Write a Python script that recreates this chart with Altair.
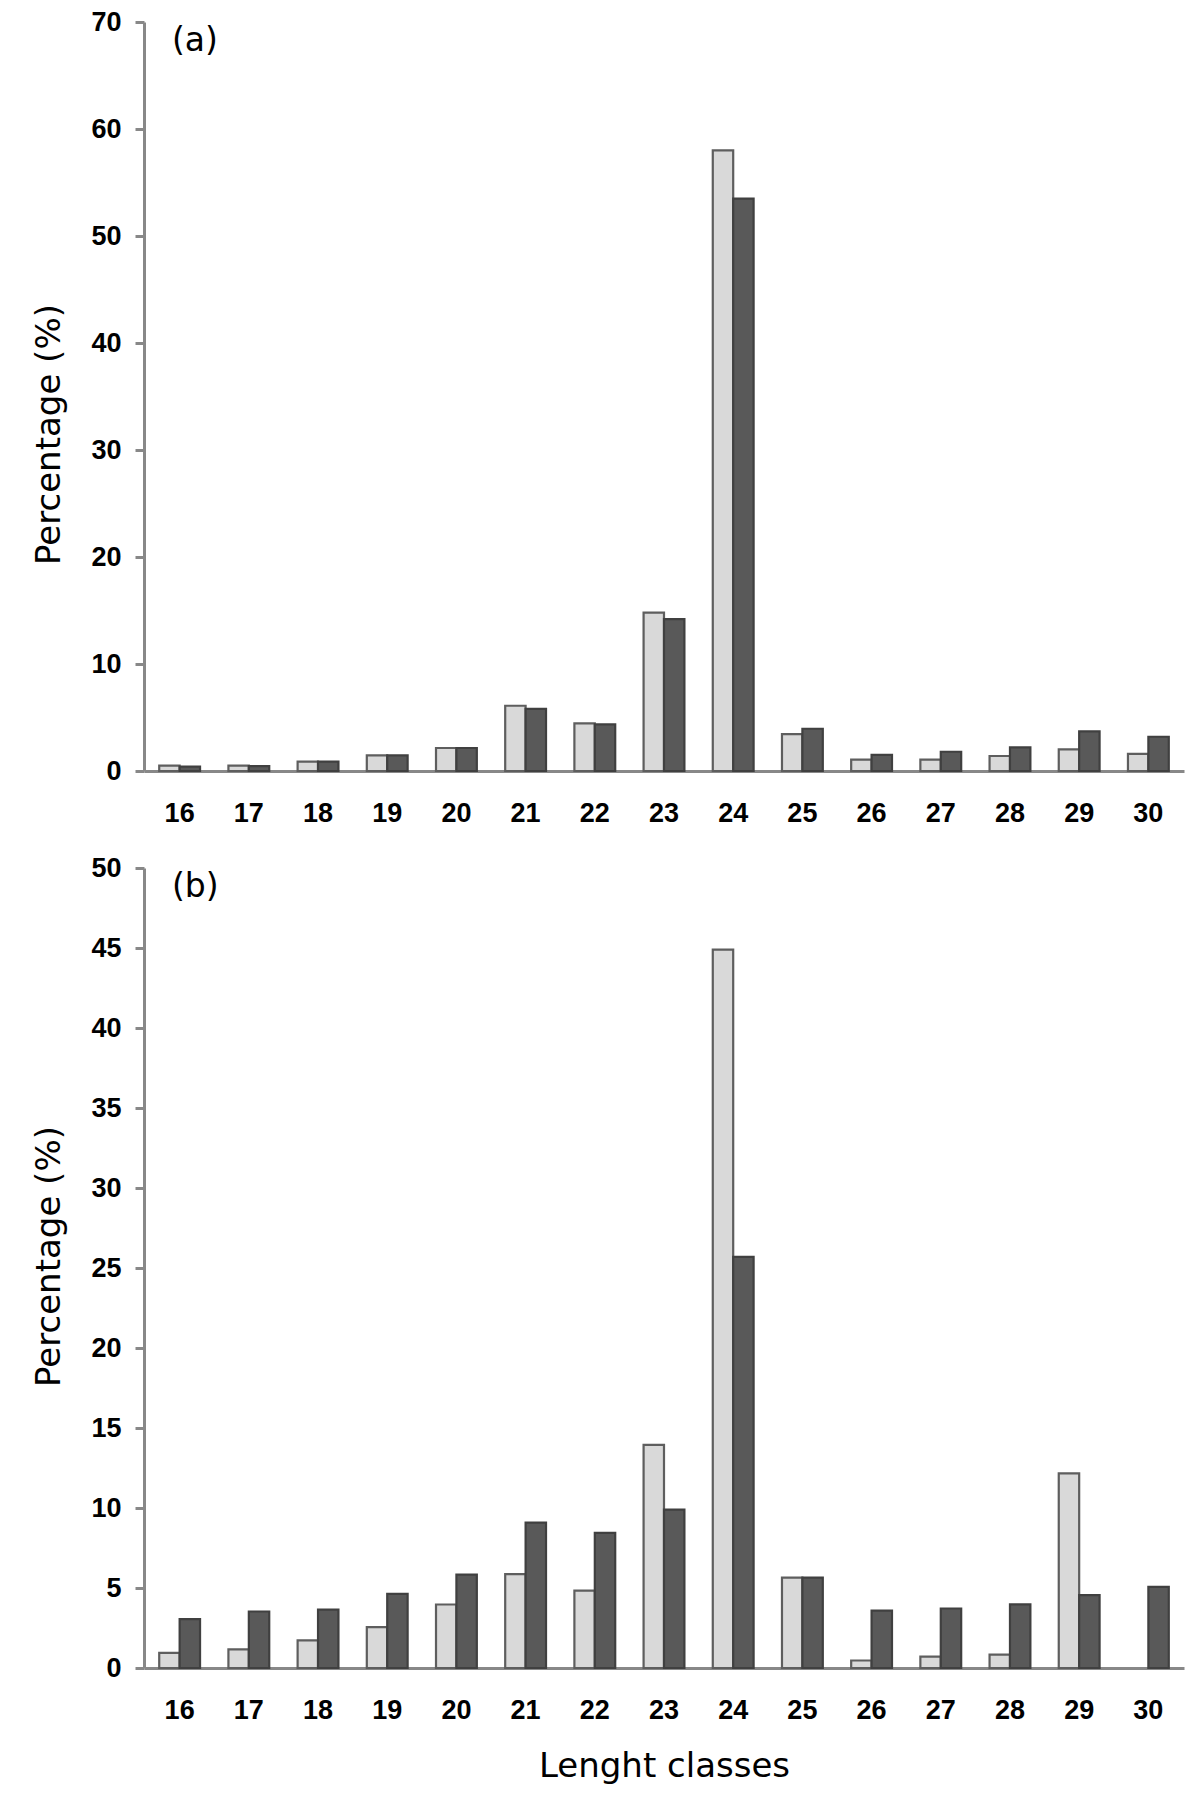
import altair as alt
import pandas as pd

classes = [16, 17, 18, 19, 20, 21, 22, 23, 24, 25, 26, 27, 28, 29, 30]
series_names = ["S1", "S2"]

a_light = [0.5, 0.5, 0.87, 1.46, 2.15, 6.1, 4.45, 14.8, 58.0, 3.44, 1.06, 1.06, 1.4, 2.03, 1.6]
a_dark = [0.4, 0.45, 0.87, 1.46, 2.15, 5.8, 4.35, 14.2, 53.5, 3.95, 1.5, 1.8, 2.2, 3.7, 3.2]
b_light = [0.95, 1.16, 1.73, 2.56, 3.97, 5.87, 4.84, 13.94, 44.9, 5.65, 0.47, 0.71, 0.84, 12.17, 0.0]
b_dark = [3.06, 3.53, 3.65, 4.63, 5.83, 9.08, 8.44, 9.9, 25.7, 5.65, 3.59, 3.72, 3.98, 4.56, 5.07]

FONT = "Liberation Sans"
TFONT = "DejaVu Sans"
W = 1040


def make_df(light, dark):
    rows = []
    for c, l, d in zip(classes, light, dark):
        rows.append({"cls": str(c), "series": series_names[0], "value": l})
        rows.append({"cls": str(c), "series": series_names[1], "value": d})
    return pd.DataFrame(rows)


def panel(light, dark, ymax, ystep, label, height, show_xtitle, title_y):
    df = make_df(light, dark)
    xaxis = alt.Axis(
        title="Lenght classes" if show_xtitle else None,
        labelAngle=0,
        labelFont=FONT,
        labelFontWeight="bold",
        labelFontSize=27,
        labelColor="#000000",
        labelPadding=29,
        ticks=False,
        domainColor="#888888",
        domainWidth=3,
        titleFont=TFONT,
        titleFontSize=34,
        titleFontWeight="normal",
        titleColor="#000000",
        titlePadding=26,
    )
    yaxis = alt.Axis(
        title="Percentage (%)",
        values=list(range(0, ymax + 1, ystep)),
        grid=False,
        labelFont=FONT,
        labelFontWeight="bold",
        labelFontSize=27,
        labelColor="#000000",
        labelPadding=14,
        tickColor="#888888",
        tickWidth=3,
        tickSize=9,
        domainColor="#888888",
        domainWidth=3,
        titleFont=TFONT,
        titleFontSize=34,
        titleFontWeight="normal",
        titleColor="#000000",
        titlePadding=24,
        titleY=title_y,
    )
    bars = alt.Chart(df).transform_filter("datum.value > 0").mark_bar(
        strokeWidth=2.2, strokeJoin="miter"
    ).encode(
        x=alt.X("cls:N", sort=[str(c) for c in classes], axis=xaxis,
                scale=alt.Scale(domain=[str(c) for c in classes],
                                paddingInner=0.41, paddingOuter=0.22)),
        xOffset=alt.XOffset("series:N", sort=series_names,
                            scale=alt.Scale(domain=series_names)),
        y=alt.Y("value:Q", axis=yaxis,
                scale=alt.Scale(domain=[0, ymax], nice=False, zero=True)),
        fill=alt.Fill("series:N", legend=None,
                      scale=alt.Scale(domain=series_names, range=["#d9d9d9", "#595959"])),
        stroke=alt.Stroke("series:N", legend=None,
                          scale=alt.Scale(domain=series_names, range=["#5e5e5e", "#404040"])),
    )
    txt = alt.Chart(pd.DataFrame({"t": [label]})).mark_text(
        font=TFONT, fontSize=33, align="left", baseline="middle", color="#000000"
    ).encode(text="t:N", x=alt.value(28), y=alt.value(19))
    return alt.layer(bars, txt).properties(width=W, height=height)


pa = panel(a_light, a_dark, 70, 10, "(a)", 749, False, 412)
pb = panel(b_light, b_dark, 50, 5, "(b)", 800, True, 388)

chart = alt.vconcat(pa, pb, spacing=28).configure_view(stroke=None).properties(
    padding={"left": 24, "top": 0, "right": 5, "bottom": 5}
)

chart.save("out.html", embed_options={"renderer": "svg", "actions": False})
